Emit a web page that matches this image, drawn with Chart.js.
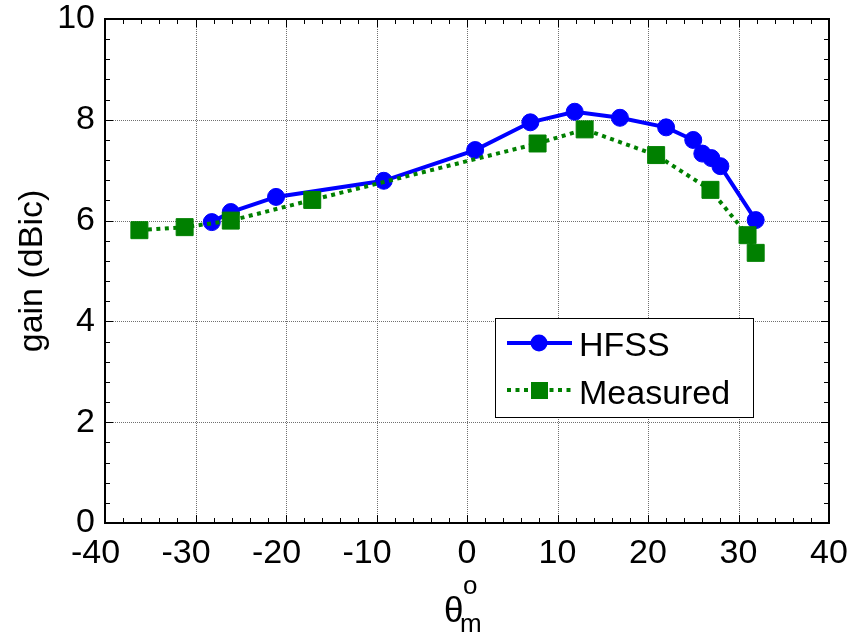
<!DOCTYPE html>
<html>
<head>
<meta charset="utf-8">
<script src="https://cdn.jsdelivr.net/npm/chart.js@4.4.0/dist/chart.umd.min.js"></script>
<style>
  html, body { margin: 0; padding: 0; background: #fff; }
  #wrap { width: 851px; height: 635px; }
</style>
</head>
<body>
<div id="wrap"><canvas id="gainChart" width="851" height="635"></canvas></div>
<script>
// gain vs scan angle
const hfssAngle = [-28.2, -26.1, -21.1, -9.2, 0.9, 7.0, 11.9, 16.9, 22.0, 25.0, 26.0, 27.0, 28.0, 31.9];
const hfssGain  = [5.97, 6.17, 6.47, 6.79, 7.40, 7.95, 8.16, 8.04, 7.85, 7.60, 7.33, 7.24, 7.08, 6.01];
const measAngle = [-36.2, -31.2, -26.1, -17.1, 7.8, 13.0, 20.9, 26.9, 31.0, 31.9];
const measGain  = [5.81, 5.87, 6.00, 6.41, 7.53, 7.81, 7.30, 6.61, 5.71, 5.36];

const xTicks = [-40, -30, -20, -10, 0, 10, 20, 30, 40];
const yTicks = [0, 2, 4, 6, 8, 10];
const xMinorStep = 2;
const yMinorStep = 0.4;

const FONT = '"Liberation Sans", Arial, sans-serif';
const BLUE = '#0000ff';
const GREEN = '#008000';

function toPoints(xs, ys) {
    return xs.map((x, i) => ({ x: x, y: ys[i] }));
}

// keep the plot box fixed, labels may hang outside it
function noScalePadding(s) {
    s.paddingTop = 0;
    s.paddingBottom = 0;
    s.paddingLeft = 0;
    s.paddingRight = 0;
}

// grid, box, inward ticks, legend and axis titles (matlab look)
const axesDecor = {
    id: 'axesDecor',
    beforeDatasetsDraw(chart) {
        const { ctx, chartArea: a, scales } = chart;
        ctx.save();
        ctx.strokeStyle = '#707070';
        ctx.lineWidth = 1;
        ctx.setLineDash([1, 1]);
        xTicks.forEach(v => {
            const px = Math.round(scales.x.getPixelForValue(v)) + 0.5;
            ctx.beginPath(); ctx.moveTo(px, a.top); ctx.lineTo(px, a.bottom); ctx.stroke();
        });
        yTicks.forEach(v => {
            const py = Math.round(scales.y.getPixelForValue(v)) + 0.5;
            ctx.beginPath(); ctx.moveTo(a.left, py); ctx.lineTo(a.right, py); ctx.stroke();
        });
        ctx.restore();
    },
    afterDatasetsDraw(chart) {
        const { ctx, chartArea: a, scales } = chart;
        ctx.save();
        ctx.setLineDash([]);
        ctx.strokeStyle = '#000';
        ctx.lineWidth = 2;
        ctx.strokeRect(a.left, a.top, a.right - a.left, a.bottom - a.top);

        // tick marks on all four sides
        ctx.lineWidth = 1;
        const tick = (x1, y1, x2, y2) => { ctx.beginPath(); ctx.moveTo(x1, y1); ctx.lineTo(x2, y2); ctx.stroke(); };
        for (let v = -40; v <= 40; v += xMinorStep) {
            const px = Math.round(scales.x.getPixelForValue(v)) + 0.5;
            const len = v % 10 === 0 ? 8 : 5;
            tick(px, a.bottom, px, a.bottom - len);
            tick(px, a.top, px, a.top + len);
        }
        for (let i = 0; i <= 25; i++) {
            const v = i * yMinorStep;
            const py = Math.round(scales.y.getPixelForValue(v)) + 0.5;
            const len = i % 5 === 0 ? 8 : 5;
            tick(a.left, py, a.left + len, py);
            tick(a.right, py, a.right - len, py);
        }

        // legend
        const lx = 495, ly = 318, lw = 258, lh = 99;
        ctx.fillStyle = '#fff';
        ctx.fillRect(lx, ly, lw, lh);
        ctx.strokeStyle = '#000';
        ctx.lineWidth = 1;
        ctx.strokeRect(lx + 0.5, ly + 0.5, lw, lh);

        ctx.lineWidth = 4;
        ctx.strokeStyle = BLUE;
        tick(lx + 12, ly + 25, lx + 77, ly + 25);
        ctx.fillStyle = BLUE;
        ctx.beginPath(); ctx.arc(lx + 44, ly + 25, 8.5, 0, Math.PI * 2); ctx.fill();

        ctx.strokeStyle = GREEN;
        ctx.lineCap = 'butt';
        ctx.setLineDash([4, 4.5]);
        tick(lx + 12, ly + 72, lx + 77, ly + 72);
        ctx.setLineDash([]);
        ctx.fillStyle = GREEN;
        ctx.fillRect(lx + 36, ly + 64, 17, 17);

        ctx.fillStyle = '#000';
        ctx.font = '34px ' + FONT;
        ctx.textAlign = 'left';
        ctx.textBaseline = 'alphabetic';
        ctx.fillText('HFSS', lx + 84, ly + 38);
        ctx.fillText('Measured', lx + 84, ly + 86);

        // y title
        ctx.save();
        ctx.translate(42, (a.top + a.bottom) / 2);
        ctx.rotate(-Math.PI / 2);
        ctx.textAlign = 'center';
        ctx.fillText('gain (dBic)', 0, 0);
        ctx.restore();

        // x title: theta with superscript o and subscript m
        ctx.font = '35px ' + FONT;
        ctx.fillText('θ', 444, 622);
        ctx.font = '26px ' + FONT;
        ctx.fillText('o', 463, 594);
        ctx.fillText('m', 460, 632);
        ctx.restore();
    }
};

const ctx = document.getElementById('gainChart').getContext('2d');
new Chart(ctx, {
    type: 'scatter',
    data: {
        datasets: [
            {
                label: 'HFSS',
                data: toPoints(hfssAngle, hfssGain),
                showLine: true,
                borderColor: BLUE,
                backgroundColor: BLUE,
                borderWidth: 4,
                pointStyle: 'circle',
                pointRadius: 8.5,
                pointBorderWidth: 1,
                pointBackgroundColor: BLUE,
                pointBorderColor: BLUE,
                order: 2
            },
            {
                label: 'Measured',
                data: toPoints(measAngle, measGain),
                showLine: true,
                borderColor: GREEN,
                backgroundColor: GREEN,
                borderWidth: 4,
                borderDash: [4, 4.5],
                borderCapStyle: 'butt',
                pointStyle: 'rect',
                pointRadius: 12,
                pointBorderWidth: 1,
                pointBackgroundColor: GREEN,
                pointBorderColor: GREEN,
                order: 1
            }
        ]
    },
    options: {
        responsive: false,
        animation: false,
        layout: { padding: { left: 0, right: 22, top: 19, bottom: 0 } },
        plugins: {
            legend: { display: false },
            tooltip: { enabled: false }
        },
        scales: {
            x: {
                type: 'linear',
                min: -40,
                max: 40,
                afterBuildTicks: s => { s.ticks = xTicks.map(v => ({ value: v })); },
                afterFit: s => { s.height = 112; noScalePadding(s); },
                grid: { display: false, drawTicks: false },
                border: { display: false },
                ticks: {
                    color: '#000',
                    padding: 10,
                    maxRotation: 0,
                    font: { family: FONT, size: 34 },
                    // negative labels sit a bit left, digits over the tick
                    callback: v => v < 0 ? v + '\u2007' : String(v)
                }
            },
            y: {
                type: 'linear',
                min: 0,
                max: 10,
                afterBuildTicks: s => { s.ticks = yTicks.map(v => ({ value: v })); },
                afterFit: s => { s.width = 105; noScalePadding(s); },
                grid: { display: false, drawTicks: false },
                border: { display: false },
                ticks: {
                    color: '#000',
                    padding: 10,
                    font: { family: FONT, size: 34 }
                }
            }
        }
    },
    plugins: [axesDecor]
});
</script>
</body>
</html>
